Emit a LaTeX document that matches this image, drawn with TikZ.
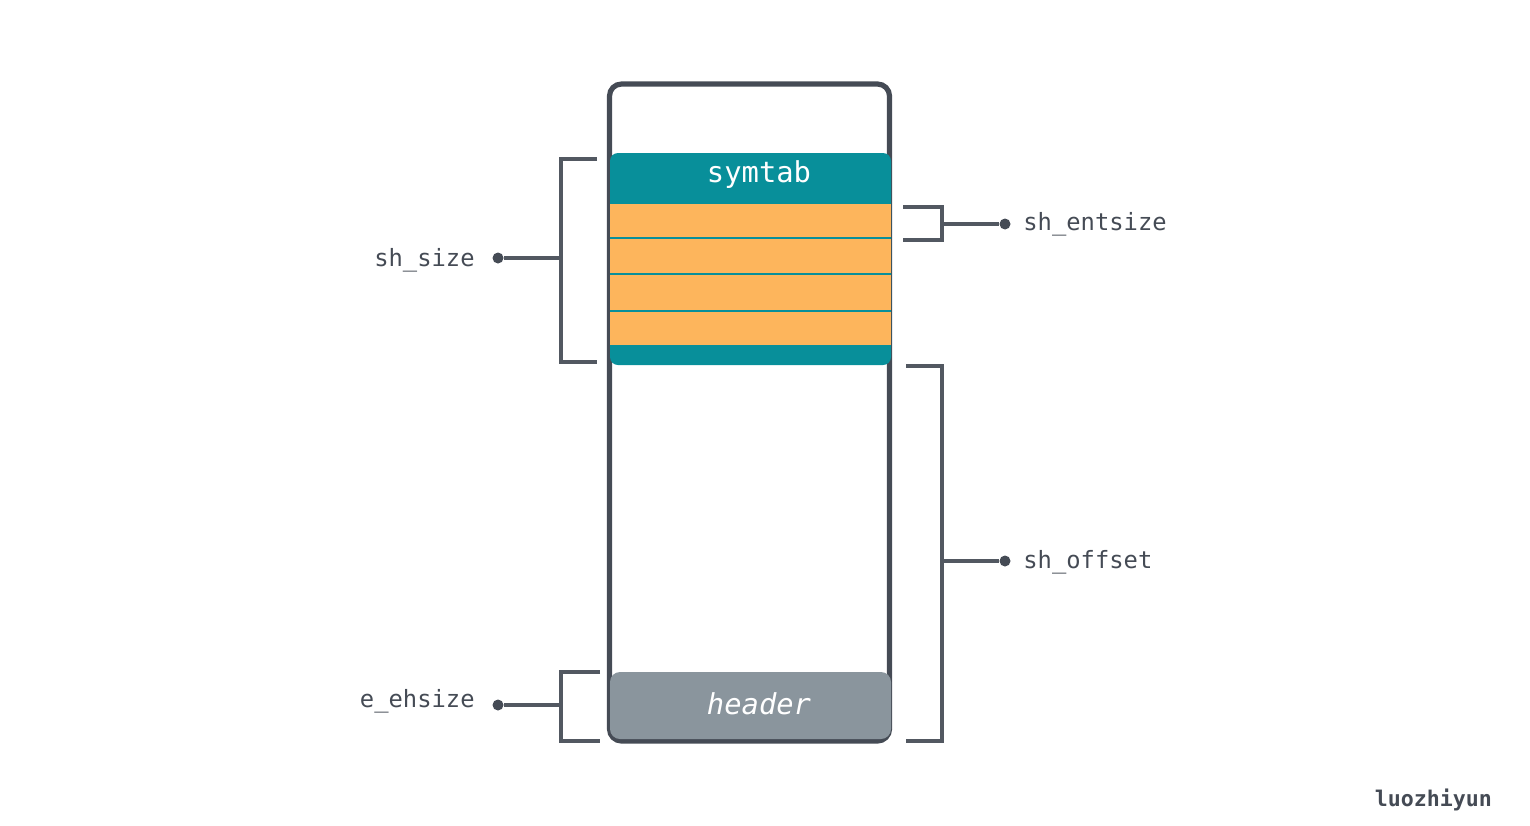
\documentclass[tikz,border=0pt]{standalone}
\usepackage{fontspec}
\setmonofont{DejaVu Sans Mono}
\definecolor{teal}{HTML}{088F9A}
\definecolor{orng}{HTML}{FDB55C}
\definecolor{hgray}{HTML}{8A959D}
\definecolor{dark}{HTML}{454B55}
\definecolor{brk}{HTML}{525861}
\begin{document}
\begin{tikzpicture}[x=0.5pt,y=-0.5pt,
  lbl/.style={font=\ttfamily\fontsize{11.9}{14}\selectfont, text=dark, inner sep=0pt},
  brline/.style={draw=brk, line width=1.6pt},
  dotc/.style={circle, fill=dark, inner sep=0pt, minimum size=5.5pt}]
\useasboundingbox (0,0) rectangle (1530,825);
% outer box
\draw[dark, line width=2.6pt, rounded corners=6pt] (609.5,84) rectangle (889.5,741);
% symtab block
\fill[teal, rounded corners=4pt] (610,153) rectangle (891,365);
\fill[orng] (610,204) rectangle (891,345);
\foreach \y in {238,274,311} \draw[teal, line width=1.4pt] (610,\y) -- (891,\y);
\node[font=\ttfamily\fontsize{14.4}{16}\selectfont, text=white] (sym) at (759,175) {symtab};
% header block
\fill[hgray, rounded corners=5pt] (610,672) rectangle (891,739);
\node[font=\ttfamily\itshape\fontsize{14.4}{16}\selectfont, text=white] (hdr) at (759,704) {header};
% sh_size bracket
\coordinate (a1) at (597,159); \coordinate (a2) at (561,159);
\coordinate (a3) at (561,362); \coordinate (a4) at (597,362);
\coordinate (am) at (561,258);
\draw[brline] (a1) -- (a2) -- (a3) -- (a4);
\node[dotc] (d1) at (498,258) {};
\draw[brline] (d1) -- (am);
\node[lbl, anchor=east] (t1) at (475,260) {sh\_size};
% e_ehsize bracket
\coordinate (b1) at (600,672); \coordinate (b2) at (561,672);
\coordinate (b3) at (561,741); \coordinate (b4) at (600,741);
\coordinate (bm) at (561,705);
\draw[brline] (b1) -- (b2) -- (b3) -- (b4);
\node[dotc] (d2) at (498,705) {};
\draw[brline] (d2) -- (bm);
\node[lbl, anchor=east] (t2) at (475,701) {e\_ehsize};
% sh_entsize bracket
\coordinate (c1) at (903,207); \coordinate (c2) at (942,207);
\coordinate (c3) at (942,240); \coordinate (c4) at (903,240);
\coordinate (cm) at (942,224);
\draw[brline] (c1) -- (c2) -- (c3) -- (c4);
\node[dotc] (d3) at (1005,224) {};
\draw[brline] (cm) -- (d3);
\node[lbl, anchor=west] (t3) at (1023,224) {sh\_entsize};
% sh_offset bracket
\coordinate (e1) at (906,366); \coordinate (e2) at (942,366);
\coordinate (e3) at (942,741); \coordinate (e4) at (906,741);
\coordinate (em) at (942,561);
\draw[brline] (e1) -- (e2) -- (e3) -- (e4);
\node[dotc] (d4) at (1005,561) {};
\draw[brline] (em) -- (d4);
\node[lbl, anchor=west] (t4) at (1023,562) {sh\_offset};
% signature
\node[font=\ttfamily\bfseries\fontsize{10.8}{12}\selectfont, text=dark, anchor=east] (sig) at (1499,800) {luozhiyun};
\end{tikzpicture}
\end{document}
